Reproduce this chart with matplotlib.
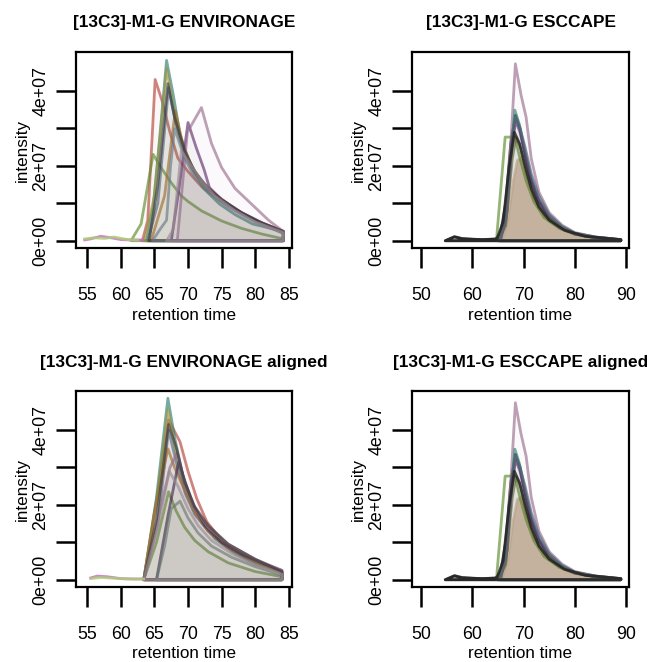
import matplotlib
matplotlib.use('Agg')
import matplotlib.pyplot as plt
from matplotlib.colors import to_rgba

plt.rcParams['font.family'] = ['Liberation Sans', 'DejaVu Sans']

# ---- data (intensity in units of 1e7) ----
# ENVIRONAGE, raw
env_colors = ['#B5443A', '#5E8C2E', '#2F7F72', '#9C9440', '#5B6B80', '#A5702E',
              '#5E2F6E', '#9A6E8E', '#3A3A3A', '#6A7A88', '#9D8A95']
env_rt = [
    [63.2, 64.0, 65.1, 66.2, 67.3, 68.5, 70, 72, 75, 78, 81, 84.2],
    [61.5, 63.0, 64.8, 66, 67.5, 69, 70, 72, 75, 78, 81, 84.2],
    [63.8, 64.8, 65.8, 66.8, 67.8, 68.8, 70, 72.3, 74.7, 77, 79.6, 84.2],
    [63.5, 65, 66.8, 67.8, 69, 70.5, 72.5, 75, 78, 81, 84.2],
    [64.0, 65.5, 67.1, 68.2, 69.5, 71, 73, 75, 78, 81, 84.2],
    [64.5, 66.5, 68.1, 69.2, 70.5, 72, 74, 77, 80, 84.2],
    [67.5, 68.5, 70.0, 71.2, 72.4, 73.2, 75, 78, 81, 84.2],
    [68.4, 69.9, 72.0, 73.5, 75, 77, 80, 82, 84.2],
    [64.2, 65.5, 67.0, 68.0, 69.5, 71, 73, 75, 78, 81, 84.2],
    [64.7, 66.0, 66.8, 67.4, 68.0, 69.5, 71, 73, 76, 80, 84.2],
    [66.8, 67.8, 69.0, 70.5, 72, 74, 77, 80, 84.2],
]
env_int = [
    [0, 0.55, 4.31, 3.7, 2.9, 2.2, 1.85, 1.45, 1.05, 0.72, 0.45, 0.22],
    [0, 0.45, 2.31, 1.95, 1.55, 1.2, 1.05, 0.8, 0.53, 0.33, 0.18, 0.05],
    [0, 0.9, 2.8, 4.82, 3.9, 2.85, 2.2, 1.4, 0.98, 0.7, 0.45, 0.25],
    [0, 1.2, 4.6, 3.6, 2.6, 1.95, 1.45, 1.05, 0.72, 0.45, 0.2],
    [0, 1.0, 4.09, 3.1, 2.3, 1.8, 1.35, 1.05, 0.72, 0.45, 0.22],
    [0, 1.2, 3.47, 2.6, 2.0, 1.6, 1.25, 0.85, 0.55, 0.25],
    [0, 1.2, 3.16, 2.5, 1.9, 1.42, 1.1, 0.75, 0.48, 0.25],
    [0, 2.9, 3.56, 2.6, 1.96, 1.4, 0.89, 0.55, 0.25],
    [0, 1.5, 4.2, 3.3, 2.4, 1.85, 1.4, 1.1, 0.75, 0.48, 0.25],
    [0, 0.35, 0.55, 2.0, 3.0, 2.2, 1.7, 1.3, 0.9, 0.5, 0.2],
    [0, 0.3, 2.4, 2.0, 1.6, 1.2, 0.8, 0.5, 0.22],
]
# ENVIRONAGE, aligned
envA_colors = ['#B5443A', '#5E8C2E', '#2F7F72', '#9C9440', '#5B6B80', '#A5702E',
               '#3E2A4E', '#9A6E8E', '#3A3A3A', '#6A7A70', '#9D8A95']
envA_rt = [
    [63.4, 65.2, 67.1, 68.8, 70.0, 71.3, 72.8, 75, 76.7, 79, 81, 83.2, 84],
    [63.4, 65.3, 67.1, 68.2, 69.5, 71, 73, 76, 80, 84],
    [63.4, 65.3, 67.0, 68.0, 69.2, 70.5, 72, 74, 77, 80, 84],
    [63.4, 65.3, 67.0, 68.2, 69.5, 71, 73, 76, 80, 84],
    [63.4, 65.5, 67.1, 68.3, 69.6, 71, 73, 76, 80, 84],
    [63.4, 65.0, 67.0, 68.0, 69.5, 71, 73, 76, 80, 84],
    [65.3, 67.0, 68.6, 69.6, 70.8, 72.5, 75, 78, 81, 84],
    [63.4, 65.5, 67.3, 68.4, 69.6, 71, 73, 76, 80, 84],
    [63.4, 65.3, 67.1, 68.3, 69.5, 71, 73, 76, 80, 84],
    [65.3, 66.5, 67.5, 68.8, 70, 71.5, 73.5, 76.5, 80, 84],
    [63.4, 65.5, 67.2, 68.5, 70, 71.5, 73.5, 76.5, 80, 84],
]
envA_int = [
    [0, 2.0, 4.27, 3.69, 2.9, 2.17, 1.55, 1.05, 0.78, 0.55, 0.4, 0.25, 0.15],
    [0, 1.0, 2.35, 1.85, 1.4, 1.05, 0.75, 0.45, 0.22, 0.08],
    [0, 2.2, 4.85, 3.8, 2.8, 2.1, 1.55, 1.1, 0.7, 0.42, 0.2],
    [0, 2.0, 4.55, 3.4, 2.5, 1.85, 1.35, 0.9, 0.5, 0.2],
    [0, 1.5, 4.0, 3.1, 2.3, 1.75, 1.3, 0.85, 0.48, 0.2],
    [0, 1.8, 3.5, 3.0, 2.4, 1.8, 1.3, 0.85, 0.48, 0.2],
    [0, 1.7, 3.15, 2.6, 2.0, 1.45, 1.0, 0.68, 0.45, 0.25],
    [0, 1.6, 3.0, 3.39, 2.5, 1.9, 1.4, 0.95, 0.55, 0.25],
    [0, 1.6, 4.15, 3.5, 2.6, 1.95, 1.45, 0.95, 0.55, 0.22],
    [0, 0.9, 1.9, 2.1, 1.65, 1.25, 0.9, 0.6, 0.35, 0.12],
    [0, 1.4, 2.9, 2.5, 1.9, 1.45, 1.05, 0.7, 0.4, 0.15],
]
# low-level traces before the peak window (ENVIRONAGE)
base_colors = ['#CC66CC', '#A8D070']
env_base_rt = [[54.6, 55.5, 57.0, 58.5, 60, 61.5, 63.2], [54.6, 56, 57.5, 59, 61, 62.5]]
env_base_int = [[0.02, 0.05, 0.12, 0.08, 0.03, 0.02, 0.02], [0.05, 0.08, 0.06, 0.1, 0.03, 0.02]]
envA_base_rt = [[55.5, 56.5, 58, 60, 62, 63.4], [55.5, 57, 59, 61, 63.4]]
envA_base_int = [[0.05, 0.1, 0.08, 0.03, 0.02, 0.02], [0.03, 0.06, 0.04, 0.02, 0.02]]

# ESCCAPE (raw and aligned look the same)
esc_colors = ['#D6B496', '#2B2B2B', '#9A6E8E', '#5E8C2E', '#2F7F72', '#5E2F6E',
              '#6B6B3A', '#5B6B80', '#1E1E1E']
esc_rt = [
    [65.8, 67.0, 68.0, 68.8, 69.5, 70.5, 71.5, 73, 75, 77.5, 80, 84, 89],
    [54.7, 56.5, 58, 60, 62, 64.5, 65.5, 66.5, 67.5, 68.4, 69.3, 70.3, 71.5, 73, 75, 77.5, 80, 84, 89],
    [65.0, 66.5, 67.5, 68.4, 69.5, 70.5, 71.5, 73, 75, 77.5, 80, 84, 89],
    [64.8, 66.4, 68.3, 69.3, 70.5, 72, 74, 77, 80, 84, 89],
    [65.2, 66.5, 67.5, 68.3, 69.2, 70.3, 71.5, 73, 75, 77.5, 80, 84, 89],
    [65.5, 66.8, 67.8, 68.5, 69.3, 70.3, 71.5, 73, 75, 77.5, 80, 84, 89],
    [65.0, 66.5, 67.8, 68.5, 69.4, 70.5, 72, 74, 77, 80, 84, 89],
    [65.3, 66.6, 67.6, 68.5, 69.3, 70.3, 71.5, 73, 75, 77.5, 80, 84, 89],
    [54.7, 56.5, 58, 62, 64.8, 66, 67.2, 68.2, 69.2, 70.3, 71.5, 73, 75, 78, 82, 89],
]
esc_int = [
    [0, 0.6, 1.6, 2.15, 2.2, 1.85, 1.35, 0.9, 0.55, 0.3, 0.16, 0.07, 0.02],
    [0, 0.11, 0.06, 0.04, 0.03, 0.04, 0.2, 1.0, 2.6, 3.35, 3.0, 2.3, 1.6, 1.05, 0.62, 0.35, 0.2, 0.1, 0.03],
    [0, 0.6, 2.6, 4.73, 3.9, 3.3, 2.2, 1.3, 0.75, 0.42, 0.22, 0.1, 0.03],
    [0.18, 2.77, 2.77, 2.2, 1.6, 1.05, 0.62, 0.33, 0.18, 0.08, 0.02],
    [0, 0.5, 2.2, 3.49, 3.1, 2.4, 1.7, 1.1, 0.68, 0.38, 0.2, 0.09, 0.02],
    [0, 0.8, 2.7, 3.2, 2.9, 2.3, 1.6, 1.05, 0.62, 0.34, 0.18, 0.08, 0.02],
    [0, 0.4, 2.2, 2.75, 2.5, 1.8, 1.15, 0.7, 0.36, 0.18, 0.08, 0.02],
    [0, 0.6, 2.4, 3.3, 3.0, 2.5, 1.8, 1.2, 0.7, 0.38, 0.2, 0.09, 0.02],
    [0, 0.1, 0.05, 0.03, 0.05, 0.5, 2.0, 2.9, 2.6, 2.0, 1.4, 0.9, 0.55, 0.28, 0.12, 0.03],
]
esc_fill_alpha = [0.75, 0.02, 0.03, 0.02, 0.03, 0.02, 0.02, 0.02, 0.02]
esc_line_alpha = [0.65, 0.8, 0.65, 0.65, 0.65, 0.65, 0.65, 0.65, 0.8]

titles = ['[13C3]-M1-G ENVIRONAGE', '[13C3]-M1-G ESCCAPE',
          '[13C3]-M1-G ENVIRONAGE aligned', '[13C3]-M1-G ESCCAPE aligned']
env_xticks = [55, 60, 65, 70, 75, 80, 85]
esc_xticks = [50, 60, 70, 80, 90]
yticks = [0, 1e7, 2e7, 3e7, 4e7]
ytick_labels = ['0e+00', '', '2e+07', '', '4e+07']

W, H = 648, 662
fig = plt.figure(figsize=(W / 100, H / 100), dpi=100)


def add_ax(left, top, right, bottom):
    return fig.add_axes([left / W, 1 - bottom / H, (right - left) / W, (bottom - top) / H])


def draw_curve(ax, rt, val, color, fa=0.035, la=0.65):
    # closed polygon: trace plus the baseline back to the start
    xs = list(rt) + [rt[-1], rt[0]]
    ys = [v * 1e7 for v in val] + [0, 0]
    ax.fill(xs, ys, facecolor=to_rgba(color, fa), edgecolor=to_rgba(color, la),
            linewidth=2.0, joinstyle='round')


def style(ax, xticks, xlim, title, left, top, right, bottom):
    ymax = 4.85e7
    ax.set_ylim(-0.04 * ymax, 1.04 * ymax)
    ax.set_xlim(*xlim)
    ax.set_xticks(xticks)
    ax.set_yticks(yticks)
    ax.set_yticklabels(ytick_labels, rotation=90, va='center')
    ax.tick_params(axis='both', direction='out', length=14.5, width=1.8, labelsize=12.8)
    ax.tick_params(axis='x', pad=13.5)
    ax.tick_params(axis='y', pad=4.5)
    for s in ax.spines.values():
        s.set_linewidth(1.6)
    cx = (left + right) / 2 / W
    fig.text(cx, 1 - (top - 29) / H, title, ha='center', va='center',
             fontsize=12.4, fontweight='bold')
    fig.text(cx, 1 - (bottom + 67) / H, 'retention time', ha='center', va='center',
             fontsize=12.3)
    fig.text((left - 54) / W, 1 - (top + bottom) / 2 / H, 'intensity', rotation=90,
             ha='center', va='center', fontsize=12.3)


# panel 1: ENVIRONAGE
box = (76, 52, 292, 248)
ax = add_ax(*box)
for rt, val, c in zip(env_base_rt, env_base_int, base_colors):
    ax.plot(rt, [v * 1e7 for v in val], color=c, lw=2.0, alpha=0.8)
for rt, val, c in zip(env_rt, env_int, env_colors):
    draw_curve(ax, rt, val, c)
style(ax, env_xticks, (53.3, 85.5), titles[0], *box)

# panel 2: ESCCAPE
box = (412, 52, 629, 248)
ax = add_ax(*box)
for rt, val, c, fa, la in zip(esc_rt, esc_int, esc_colors, esc_fill_alpha, esc_line_alpha):
    draw_curve(ax, rt, val, c, fa=fa, la=la)
style(ax, esc_xticks, (48.2, 90.6), titles[1], *box)

# panel 3: ENVIRONAGE aligned
box = (76, 391, 292, 587)
ax = add_ax(*box)
for rt, val, c in zip(envA_base_rt, envA_base_int, base_colors):
    ax.plot(rt, [v * 1e7 for v in val], color=c, lw=2.0, alpha=0.8)
for rt, val, c in zip(envA_rt, envA_int, envA_colors):
    draw_curve(ax, rt, val, c)
style(ax, env_xticks, (53.3, 85.5), titles[2], *box)

# panel 4: ESCCAPE aligned
box = (412, 391, 629, 587)
ax = add_ax(*box)
for rt, val, c, fa, la in zip(esc_rt, esc_int, esc_colors, esc_fill_alpha, esc_line_alpha):
    draw_curve(ax, rt, val, c, fa=fa, la=la)
style(ax, esc_xticks, (48.2, 90.6), titles[3], *box)

fig.savefig('out.png', dpi=100)
